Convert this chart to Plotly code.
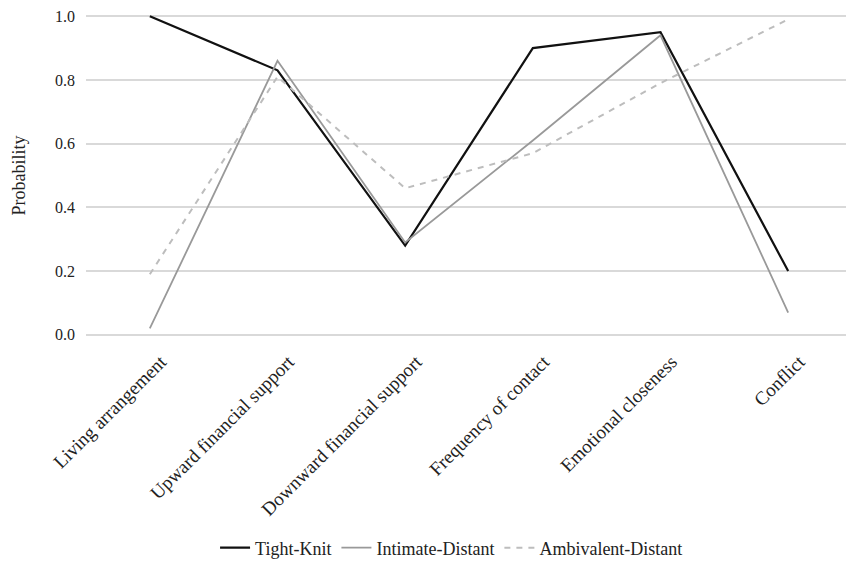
import plotly.graph_objects as go

categories = ["Living arrangement", "Upward financial support", "Downward financial support",
              "Frequency of contact", "Emotional closeness", "Conflict"]
tight_knit = [1.00, 0.83, 0.28, 0.90, 0.95, 0.20]
intimate_distant = [0.02, 0.86, 0.29, 0.61, 0.94, 0.07]
ambivalent_distant = [0.19, 0.81, 0.46, 0.57, 0.79, 0.99]
y_ticks = [0.0, 0.2, 0.4, 0.6, 0.8, 1.0]
y_ticklabels = ["0.0", "0.2", "0.4", "0.6", "0.8", "1.0"]

font_family = "Liberation Serif, Times New Roman, serif"

fig = go.Figure()
fig.add_trace(go.Scatter(x=categories, y=tight_knit, mode="lines", name="Tight-Knit",
                         line=dict(color="#111111", width=2.2)))
fig.add_trace(go.Scatter(x=categories, y=intimate_distant, mode="lines", name="Intimate-Distant",
                         line=dict(color="#999999", width=1.8)))
fig.add_trace(go.Scatter(x=categories, y=ambivalent_distant, mode="lines", name="Ambivalent-Distant",
                         line=dict(color="#bdbdbd", width=2, dash="6px,6px")))

fig.update_layout(
    width=846, height=561,
    margin=dict(l=86, r=0, t=13, b=223, autoexpand=False),
    paper_bgcolor="white", plot_bgcolor="white",
    font=dict(family=font_family, size=18, color="#222222"),
    showlegend=True,
    legend=dict(orientation="h", x=0.481, xanchor="center", y=-0.646, yanchor="middle",
                font=dict(size=18, family=font_family), traceorder="normal"),
    xaxis=dict(type="category", range=[-0.5, 5.453], tickangle=-45, showgrid=False,
               showline=False, ticks="", automargin=False,
               ticklabelshift=11, ticklabelstandoff=8,
               tickfont=dict(size=19, family=font_family)),
    yaxis=dict(range=[-0.01, 1.01], tickvals=y_ticks, ticktext=y_ticklabels,
               showgrid=True, gridcolor="#d9d9d9", gridwidth=1.5, zeroline=False,
               showline=False, ticks="", ticklabelstandoff=10, automargin=False,
               tickfont=dict(size=16, family=font_family),
               title=dict(text="Probability", font=dict(size=18, family=font_family), standoff=24)),
)

fig.write_html("out.html", config={"displayModeBar": False},
               post_script="document.body.style.margin='0px';")
